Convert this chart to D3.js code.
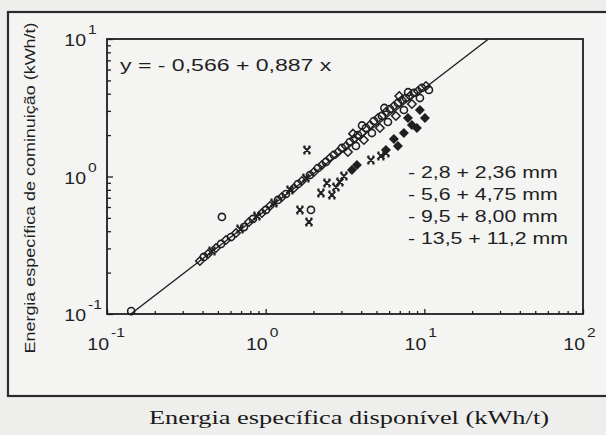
<!DOCTYPE html>
<html>
<head>
<meta charset="utf-8">
<script src="https://cdn.jsdelivr.net/npm/d3@7"></script>
<style>
  body { margin: 0; background: #eeeeec; }
  svg { display: block; }
</style>
</head>
<body>
<script>
// valores: [energia disponível, energia de cominuição] em kWh/t
const serie1 = [ // - 2,8 + 2,36 mm (círculos)
  [0.142, 0.105], [0.530, 0.508], [1.929, 0.571],
  [0.408, 0.260], [0.523, 0.323], [0.605, 0.363], [0.730, 0.429], [0.831, 0.491],
  [1.004, 0.571], [1.195, 0.675], [1.342, 0.746], [1.598, 0.882], [1.901, 1.025],
  [2.136, 1.153], [2.399, 1.275], [2.693, 1.434], [3.024, 1.612], [3.396, 1.782],
  [3.816, 2.003], [4.286, 2.253], [4.810, 2.533], [5.402, 2.756], [6.067, 3.097],
  [6.817, 3.425], [7.656, 3.722], [8.594, 4.051], [9.652, 4.403], [10.69, 4.26],
  [3.706, 1.667], [4.672, 2.071], [5.896, 2.491], [7.434, 3.045], [9.376, 3.722],
  [4.05, 2.35], [5.60, 3.15], [7.90, 4.10]
];
const serie2 = [ // - 5,6 + 4,75 mm (cruzes)
  [0.459, 0.287], [0.689, 0.415], [0.881, 0.516], [1.128, 0.642], [1.422, 0.798],
  [1.794, 0.975], [1.820, 1.558], [1.644, 0.571], [1.874, 0.467], [2.230, 0.759],
  [2.616, 0.734], [2.773, 0.838], [2.938, 0.912], [2.434, 0.897], [3.113, 1.008],
  [4.605, 1.318], [5.325, 1.410], [5.727, 1.482]
];
const serie3 = [ // - 9,5 + 8,00 mm (losangos vazios)
  [0.385, 0.243], [0.433, 0.273], [0.486, 0.302], [0.562, 0.345], [0.650, 0.388],
  [0.785, 0.467], [0.947, 0.543], [1.064, 0.610], [1.266, 0.710], [1.507, 0.825],
  [1.692, 0.927], [2.014, 1.078], [2.263, 1.212], [2.541, 1.364], [2.855, 1.507],
  [3.206, 1.667], [3.599, 1.873], [4.041, 2.071], [4.539, 2.369], [5.100, 2.665],
  [5.727, 2.945], [6.429, 3.256], [7.221, 3.601], [8.110, 3.849], [9.114, 4.189],
  [10.24, 4.553], [3.301, 1.507], [4.160, 1.843], [5.248, 2.253], [6.622, 2.756],
  [8.348, 3.368], [3.55, 2.05], [6.95, 3.85]
];
const serie4 = [ // - 13,5 + 11,2 mm (losangos cheios)
  [3.496, 1.115], [3.760, 1.212], [5.727, 1.558], [6.429, 1.873], [6.817, 1.667],
  [7.434, 2.071], [8.348, 2.369], [8.983, 2.253], [10.09, 2.665], [9.376, 3.045],
  [7.882, 2.665]
];
const legendLabels = ['- 2,8 + 2,36 mm', '- 5,6 + 4,75 mm', '- 9,5 + 8,00 mm', '- 13,5 + 11,2 mm'];
const xDecades = [-1, 0, 1, 2];
const yDecades = [-1, 0, 1];
// ajuste: ln y = a + b ln x
const fitA = -0.566, fitB = 0.887;

const W = 606, H = 435;
const ink = '#1f1f1f';

const svg = d3.select('body').append('svg')
  .attr('width', W).attr('height', H);

// moldura externa da figura
svg.append('rect')
  .attr('x', 8).attr('y', 12).attr('width', 640).attr('height', 384)
  .attr('fill', '#f4f4f2').attr('stroke', '#2c2c2c').attr('stroke-width', 2.2);

const x = d3.scaleLog().domain([0.1, 100]).range([107, 583]);
const y = d3.scaleLog().domain([0.1, 10]).range([314, 39]);

const isMajor = d => Math.abs(Math.log10(d) - Math.round(Math.log10(d))) < 1e-6;

// eixo x: só marcas menores viradas para dentro
svg.append('g')
  .attr('transform', 'translate(0,314)')
  .call(d3.axisBottom(x).tickValues(x.ticks()).tickSize(-3).tickFormat(''))
  .call(g => g.select('.domain').remove())
  .call(g => g.selectAll('.tick line').attr('stroke', ink).attr('stroke-width', 1.3)
    .attr('y2', d => isMajor(d) ? -5 : -3));

svg.append('g')
  .attr('transform', 'translate(107,0)')
  .call(d3.axisLeft(y).tickValues(y.ticks()).tickSize(-4).tickFormat(''))
  .call(g => g.select('.domain').remove())
  .call(g => g.selectAll('.tick line').attr('stroke', ink).attr('stroke-width', 1.3)
    .attr('x2', d => isMajor(d) ? 6 : 4));

// caixa do gráfico
svg.append('rect')
  .attr('x', 107).attr('y', 39).attr('width', 476).attr('height', 275)
  .attr('fill', 'none').attr('stroke', ink).attr('stroke-width', 1.8);

// rótulos 10^n
function stretch(sel, k) {
  sel.each(function () {
    const len = this.getComputedTextLength();
    d3.select(this).attr('textLength', len * k).attr('lengthAdjust', 'spacingAndGlyphs');
  });
}
const tickFont = '"Liberation Sans", Arial, sans-serif';

xDecades.forEach(e => {
  const px = x(Math.pow(10, e));
  svg.append('text').attr('x', px + 2).attr('y', 350)
    .attr('text-anchor', 'end').attr('font-family', tickFont).attr('font-size', 16)
    .attr('fill', ink).text('10').call(stretch, 1.22);
  svg.append('text').attr('x', px + 4).attr('y', 337)
    .attr('font-family', tickFont).attr('font-size', 13)
    .attr('fill', ink).text(e < 0 ? '-' + Math.abs(e) : e).call(stretch, 1.2);
});

yDecades.forEach(e => {
  const py = y(Math.pow(10, e));
  svg.append('text').attr('x', 86).attr('y', py + 7)
    .attr('text-anchor', 'end').attr('font-family', tickFont).attr('font-size', 16)
    .attr('fill', ink).text('10').call(stretch, 1.22);
  svg.append('text').attr('x', 88).attr('y', py - 5)
    .attr('font-family', tickFont).attr('font-size', 13)
    .attr('fill', ink).text(e < 0 ? '-' + Math.abs(e) : e).call(stretch, 1.2);
});

// reta de ajuste
const fitY = v => Math.exp(fitA + fitB * Math.log(v));
const x0 = Math.exp((Math.log(0.1) - fitA) / fitB);
const x1 = Math.exp((Math.log(10) - fitA) / fitB);
const lineX = d3.range(0, 21).map(i => x0 * Math.pow(x1 / x0, i / 20));
svg.append('path')
  .datum(lineX)
  .attr('fill', 'none').attr('stroke', ink).attr('stroke-width', 1.4)
  .attr('d', d3.line().x(d => x(d)).y(d => y(fitY(d))));

// marcadores
const symbolCross = {
  draw(ctx, size) {
    const r = Math.sqrt(size) / 2;
    const b = r * 0.6;
    ctx.moveTo(-r, -r); ctx.lineTo(r, r);
    ctx.moveTo(-r, r); ctx.lineTo(r, -r);
    ctx.moveTo(-r, -r); ctx.lineTo(-r + b, -r);
    ctx.moveTo(r - b, -r); ctx.lineTo(r, -r);
    ctx.moveTo(-r, r); ctx.lineTo(-r + b, r);
    ctx.moveTo(r - b, r); ctx.lineTo(r, r);
  }
};
const symbolRhomb = {
  draw(ctx, size) {
    const r = Math.sqrt(size) / 2;
    ctx.moveTo(0, -r); ctx.lineTo(r, 0); ctx.lineTo(0, r); ctx.lineTo(-r, 0);
    ctx.closePath();
  }
};
const series = [
  { data: serie1, type: d3.symbolCircle, size: 40, fill: 'none', sw: 1.6 },
  { data: serie2, type: symbolCross, size: 50, fill: 'none', sw: 1.9 },
  { data: serie3, type: symbolRhomb, size: 72, fill: 'none', sw: 1.5 },
  { data: serie4, type: symbolRhomb, size: 64, fill: ink, sw: 1.4 }
];
series.forEach(s => {
  svg.append('g').selectAll('path')
    .data(s.data)
    .enter()
    .append('path')
    .attr('transform', d => `translate(${x(d[0])},${y(d[1])})`)
    .attr('d', d3.symbol().type(s.type).size(s.size))
    .attr('fill', s.fill)
    .attr('stroke', ink)
    .attr('stroke-width', s.sw);
});

// equação
svg.append('text').attr('x', 120).attr('y', 71)
  .attr('font-family', tickFont).attr('font-size', 16).attr('fill', ink)
  .text('y = - 0,566 + 0,887 x').call(stretch, 1.44);

// legenda (sem símbolos, como no original)
svg.append('g').selectAll('text')
  .data(legendLabels)
  .enter()
  .append('text')
  .attr('x', 408)
  .attr('y', (d, i) => 178 + i * 22)
  .attr('font-family', tickFont).attr('font-size', 16).attr('fill', ink)
  .text(d => d)
  .call(stretch, 1.33);

// títulos dos eixos
svg.append('text')
  .attr('transform', 'translate(35,188) rotate(-90)')
  .attr('text-anchor', 'middle')
  .attr('font-family', tickFont).attr('font-size', 14).attr('fill', ink)
  .attr('textLength', 331).attr('lengthAdjust', 'spacingAndGlyphs')
  .text('Energia específica de cominuição (kWh/t)');

svg.append('text')
  .attr('x', 349).attr('y', 424)
  .attr('text-anchor', 'middle')
  .attr('font-family', '"Liberation Serif", "Times New Roman", serif').attr('font-size', 19)
  .attr('fill', '#1a1a1a')
  .attr('textLength', 400).attr('lengthAdjust', 'spacingAndGlyphs')
  .text('Energia específica disponível (kWh/t)');
</script>
</body>
</html>
